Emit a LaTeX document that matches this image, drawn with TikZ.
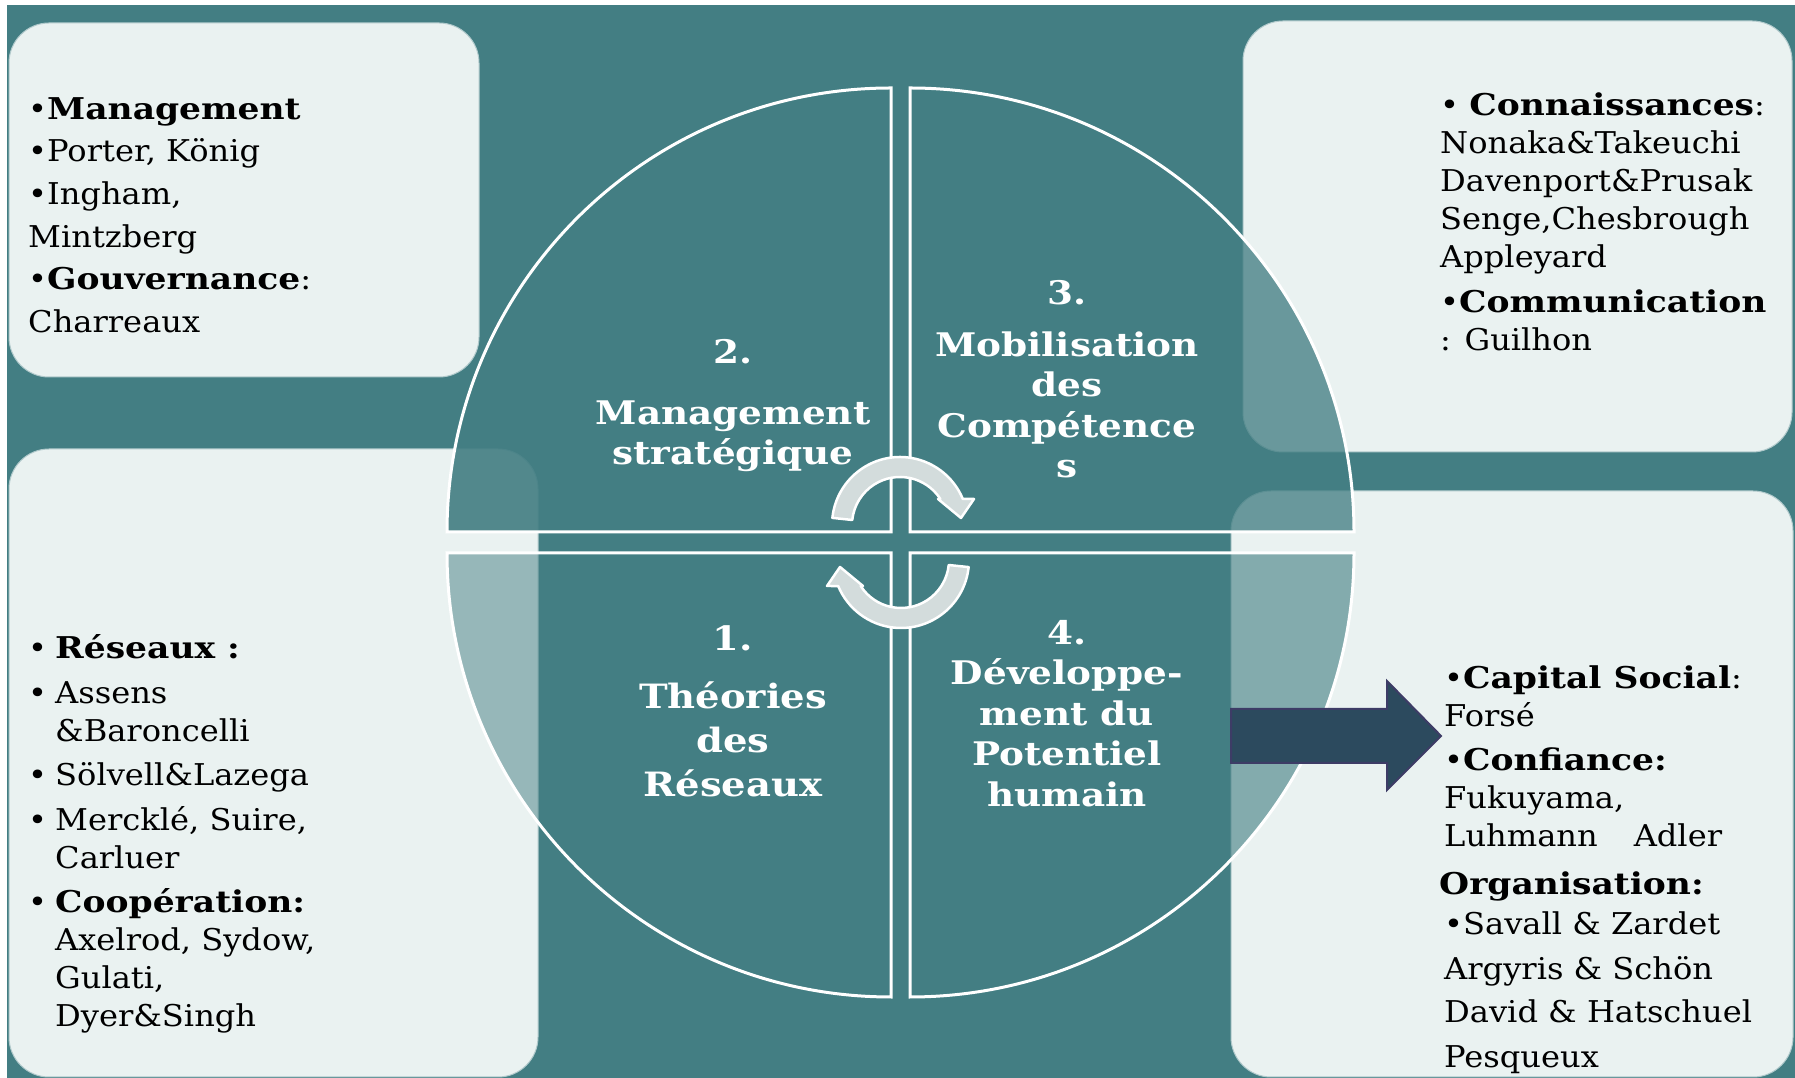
\documentclass[tikz,border=0pt]{standalone}
\usepackage{fontspec}
\setmainfont{DejaVu Serif}[UprightFeatures={FakeStretch=1.07},BoldFeatures={FakeStretch=1.15}]
\definecolor{sea}{HTML}{437E83}
\definecolor{mist}{HTML}{EAF2F1}
\definecolor{navy}{HTML}{2C4A5E}
\definecolor{navyedge}{HTML}{3D3C66}
\definecolor{pale}{HTML}{D3DCDC}
\newcommand{\bul}{\llap{\makebox[27pt][l]{•}}}
\tikzset{
  box/.style={fill=mist,draw=sea!35!mist,line width=1pt,rounded corners=40pt},
  quad/.style={fill=sea,draw=white,line width=3pt},
  txt/.style={inner sep=0pt,align=left,anchor=north west,font=\fontsize{30}{38}\selectfont},
  lbl/.style={inner sep=0pt,align=center,anchor=north,text=white,font=\bfseries\fontsize{32.5}{40.5}\selectfont},
  cyc/.style={fill=pale,draw=white,line width=2.5pt,line join=round},
  bigarrow/.style={fill=navy,draw=navyedge,line width=2pt}
}
\begin{document}
\begin{tikzpicture}[x=1pt,y=1pt]
\useasboundingbox (0,0) rectangle (1795,1078);
\fill[white] (0,0) rectangle (1795,1078);
\fill[sea] (7,0) rectangle (1795,1073);
\draw[box] (9,701) rectangle (479,1055);
\draw[box] (9,1) rectangle (538,629);
\draw[box] (1243,626) rectangle (1792,1057);
\draw[box] (1231,1) rectangle (1793,587);
\draw[quad,fill opacity=.5] (891,525) -- (891,81) arc (270:180:444) -- cycle;
\draw[quad,fill opacity=.91] (891,546) -- (447,546) arc (180:90:444) -- cycle;
\draw[quad,fill opacity=.77] (910,546) -- (910,990) arc (90:0:444) -- cycle;
\draw[quad,fill opacity=.61] (910,525) -- (1354,525) arc (0:-90:444) -- cycle;
\foreach \r in {0,180}
  \draw[cyc,rotate around={\r:(900.5,535.5)},shift={(900,553)}] (174:68) arc (174:22.5:68)
    -- (74,26) -- (61,7) -- (38,26) -- (32.8:48) arc (32.8:174:48) -- cycle;
\draw[bigarrow] (1231,369) -- (1387,369) -- (1387,397) -- (1441,342) -- (1387,288) -- (1387,315) -- (1231,315) -- cycle;
\node[txt,font=\fontsize{30}{42.6}\selectfont] (mgmt) at (28,988.8)
  {\strut•\textbf{Management}\\•Porter, König\\•Ingham,\\Mintzberg\\•\textbf{Gouvernance}:\\Charreaux};
\node[txt] (conn) at (1440,989.6)
  {\strut• \textbf{Connaissances}:\\Nonaka\&Takeuchi\\Davenport\&Prusak\\Senge,Chesbrough\\Appleyard\\[7pt]
   •\textbf{Communication}\\: Guilhon};
\node[txt] (reseaux) at (55,446.1)
  {\strut\bul\textbf{Réseaux :}\\[6.5pt]\bul Assens\\\&Baroncelli\\[6.5pt]\bul Sölvell\&Lazega\\[6.5pt]
   \bul Mercklé, Suire,\\Carluer\\[6.5pt]\bul\textbf{Coopération:}\\Axelrod, Sydow,\\Gulati,\\Dyer\&Singh};
\node[txt] (capital) at (1444,416.6)
  {\strut•\textbf{Capital Social}:\\Forsé\\[6pt]•\textbf{Confiance:}\\Fukuyama,\\Luhmann\hspace{36pt}Adler\\[10pt]
   \hspace*{-5pt}\textbf{Organisation:}\\[2pt]•Savall \& Zardet\\[7pt]Argyris \& Schön\\[5pt]David \& Hatschuel\\[7pt]Pesqueux};
\node[lbl] (q2) at (733,742.85) {\strut 2.\\[20pt]Management\\stratégique};
\node[lbl] (q3) at (1067,802.35) {\strut 3.\\[11.5pt]Mobilisation\\des\\Compétence\\s};
\node[lbl,font=\bfseries\fontsize{33.5}{44}\selectfont] (q1) at (733,458.8) {\strut 1.\\[14.5pt]Théories\\des\\Réseaux};
\node[lbl] (q4) at (1067,462.35) {\strut 4.\\Développe-\\ment du\\Potentiel\\humain};
\end{tikzpicture}
\end{document}
